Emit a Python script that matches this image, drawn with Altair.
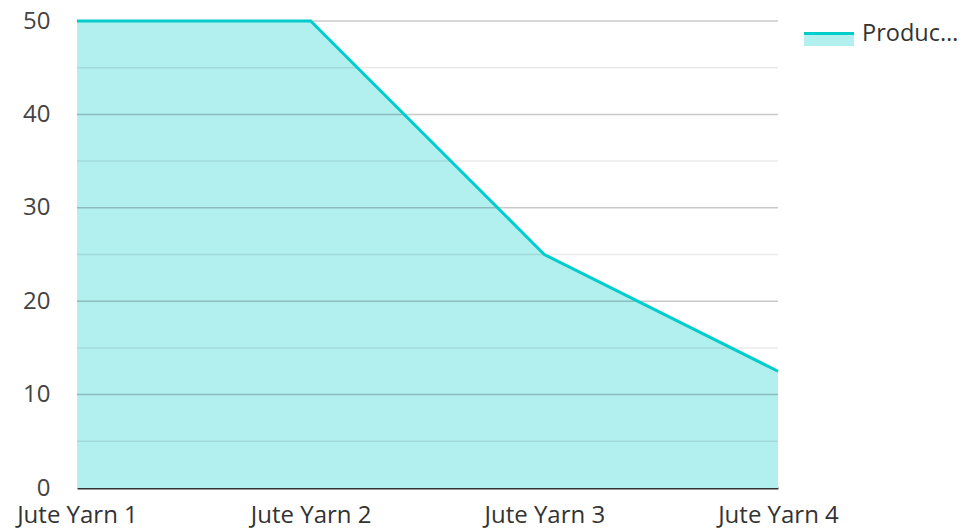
import altair as alt
import pandas as pd

categories = ["Jute Yarn 1", "Jute Yarn 2", "Jute Yarn 3", "Jute Yarn 4"]
values = [50, 50, 25, 12.5]
series_name = "Production"
legend_label = "Produc…"
major_ticks = [0, 10, 20, 30, 40, 50]
minor_ticks = [5, 15, 25, 35, 45]

LINE = "#00cccc"
FILL = "#b2efef"
FONT = "Open Sans"

df = pd.DataFrame({"category": categories, "value": values})
major_df = pd.DataFrame({"value": major_ticks[1:]})
minor_df = pd.DataFrame({"value": minor_ticks})

W, H = 701, 467

x = alt.X("category:N", sort=categories,
          scale=alt.Scale(type="point", padding=0),
          axis=alt.Axis(title=None, labelAngle=0, labelFont=FONT, labelFontSize=24,
                        labelColor="#333333", labelPadding=15, ticks=False,
                        domainColor="#333333", domainWidth=2, grid=False))
y_axis = alt.Axis(title=None, values=major_ticks, labelFont=FONT, labelFontSize=24,
                  labelColor="#444444", labelPadding=27, ticks=False,
                  domain=False, grid=False)
y = alt.Y("value:Q", scale=alt.Scale(domain=[0, 50], nice=False), axis=y_axis)

area = alt.Chart(df).mark_area(color=FILL, opacity=1).encode(x=x, y=y)
line = alt.Chart(df).mark_line(color=LINE, strokeWidth=3).encode(x=x, y=y)

major = alt.Chart(major_df).mark_rule(color="black", opacity=0.21, strokeWidth=1.5).encode(
    y=y, x=alt.value(0), x2=alt.value(W))
minor = alt.Chart(minor_df).mark_rule(color="black", opacity=0.085, strokeWidth=1.5).encode(
    y=y, x=alt.value(0), x2=alt.value(W))

leg_fill = alt.Chart(pd.DataFrame({"s": [series_name]})).mark_rect(color=FILL).encode(
    x=alt.value(W + 26), x2=alt.value(W + 76), y=alt.value(12), y2=alt.value(25))
leg_line = alt.Chart(pd.DataFrame({"s": [series_name]})).mark_rule(color=LINE, strokeWidth=3).encode(
    x=alt.value(W + 26), x2=alt.value(W + 76), y=alt.value(12.5))
leg_text = alt.Chart(pd.DataFrame({"s": [legend_label]})).mark_text(
    font=FONT, fontSize=23.5, color="#333333", align="left", baseline="middle").encode(
    text="s:N", x=alt.value(W + 84), y=alt.value(13))

chart = alt.layer(area, minor, major, line, leg_fill, leg_line, leg_text).properties(
    width=W, height=H,
    autosize=alt.AutoSizeParams(type="none"),
    padding={"left": 69, "top": 13, "right": 179, "bottom": 50},
).configure_view(stroke=None)

chart.save("out.html", embed_options={"renderer": "svg", "actions": False})
